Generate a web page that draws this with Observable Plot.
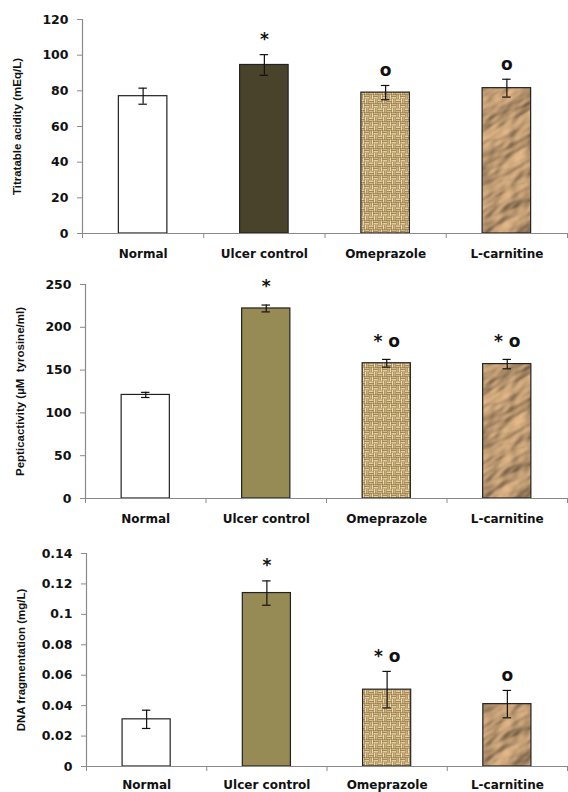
<!DOCTYPE html>
<html><head><meta charset="utf-8">
<script src="https://cdn.jsdelivr.net/npm/d3@7"></script>
<script src="https://cdn.jsdelivr.net/npm/@observablehq/plot@0.6"></script>
<style>
body{margin:0;background:#fff;}
#charts > div{height:264px;overflow:hidden}
</style>
</head><body>
<svg width="0" height="0" style="position:absolute">
<defs>
 <pattern id="burlap" patternUnits="userSpaceOnUse" width="9" height="9">
  <rect width="9" height="9" fill="#86663a"/>
  <rect x="0" y="0.4" width="4.5" height="1.5" fill="#ecdcae"/>
  <rect x="0" y="2.6" width="4.5" height="1.5" fill="#d3b982"/>
  <rect x="4.9" y="0" width="1.5" height="4.5" fill="#ecdcae"/>
  <rect x="7.1" y="0" width="1.5" height="4.5" fill="#d3b982"/>
  <rect x="0.4" y="4.5" width="1.5" height="4.5" fill="#d3b982"/>
  <rect x="2.6" y="4.5" width="1.5" height="4.5" fill="#ecdcae"/>
  <rect x="4.5" y="4.9" width="4.5" height="1.5" fill="#d3b982"/>
  <rect x="4.5" y="7.1" width="4.5" height="1.5" fill="#ecdcae"/>
 </pattern>
 <filter id="crumpleF" x="-250" y="-250" width="1070" height="770" filterUnits="userSpaceOnUse" color-interpolation-filters="sRGB">
  <feTurbulence type="fractalNoise" baseFrequency="0.026 0.055" numOctaves="3" seed="11" result="n"/>
  <feDiffuseLighting in="n" surfaceScale="3.5" diffuseConstant="1.15" lighting-color="#d2aa7e">
   <feDistantLight azimuth="225" elevation="52"/>
  </feDiffuseLighting>
 </filter>
 <pattern id="crumple" patternUnits="userSpaceOnUse" width="568" height="264">
  <rect x="0" y="0" width="568" height="264" fill="#bb966a"/>
  <rect transform="rotate(-28 284 132)" x="-250" y="-250" width="1070" height="770" fill="#bb966a" filter="url(#crumpleF)"/>
 </pattern>
</defs>
</svg>
<div id="charts"></div>
<script>
const categories = ["Normal", "Ulcer control", "Omeprazole", "L-carnitine"];

const titratable = [77, 94.5, 79, 81.5];
const titratableErr = [4.5, 5.8, 4, 5];
const titratableMarks = ["", "*", "o", "o"];
const titratableTicks = [0, 20, 40, 60, 80, 100, 120];

const peptic = [121, 222, 158, 157];
const pepticErr = [3, 4, 4.5, 5.5];
const pepticMarks = ["", "*", "* o", "* o"];
const pepticTicks = [0, 50, 100, 150, 200, 250];

const dna = [0.031, 0.114, 0.0505, 0.041];
const dnaErr = [0.006, 0.008, 0.012, 0.009];
const dnaMarks = ["", "*", "* o", "o"];
const dnaTicks = [0, 0.02, 0.04, 0.06, 0.08, 0.1, 0.12, 0.14];

const panels = [
  {label: "Titratable acidity (mEq/L)", values: titratable, err: titratableErr, marks: titratableMarks, ticks: titratableTicks,
   fills: ["#ffffff", "#4a432c", "url(#burlap)", "url(#crumple)"], ml: 82, mt: 19, mb: 31, markDy: -15, labDy: 21},
  {label: "Pepticactivity (\u00b5M  tyrosine/ml)", values: peptic, err: pepticErr, marks: pepticMarks, ticks: pepticTicks,
   fills: ["#ffffff", "#968a55", "url(#burlap)", "url(#crumple)"], ml: 85, mt: 20, mb: 30, markDy: -18, labDy: 21},
  {label: "DNA fragmentation (mg/L)", values: dna, err: dnaErr, marks: dnaMarks, ticks: dnaTicks,
   fills: ["#ffffff", "#968a55", "url(#burlap)", "url(#crumple)"], ml: 86, mt: 25, mb: 26, markDy: -15, labDy: 19}
];

const axisColor = "#8a8a8a";
const container = document.getElementById("charts");

for (const p of panels) {
  const rows = categories.map((c, i) => ({
    cat: c, i, v: p.values[i], e: p.err[i], m: p.marks[i], fill: p.fills[i]
  }));
  const ymax = p.ticks[p.ticks.length - 1];
  const chart = Plot.plot({
    width: 568, height: 264,
    marginLeft: p.ml, marginRight: 1, marginTop: p.mt, marginBottom: p.mb,
    style: {fontFamily: "DejaVu Sans, Verdana, sans-serif", background: "#fff"},
    x: {domain: [0, categories.length], axis: null},
    y: {domain: [0, ymax], axis: null},
    marks: [
      Plot.rectY(rows, {x1: d => d.i + 0.3, x2: d => d.i + 0.7, y1: 0, y2: "v",
        fill: d => d.fill, stroke: "#222", strokeWidth: 1.2}),
      Plot.ruleX(rows, {x: d => d.i + 0.5, y1: d => d.v - d.e, y2: d => d.v + d.e, stroke: "#111", strokeWidth: 1.2}),
      Plot.ruleY(rows, {y: d => d.v + d.e, x1: d => d.i + 0.465, x2: d => d.i + 0.535, stroke: "#111", strokeWidth: 1.2}),
      Plot.ruleY(rows, {y: d => d.v - d.e, x1: d => d.i + 0.465, x2: d => d.i + 0.535, stroke: "#111", strokeWidth: 1.2}),
      Plot.text(rows.filter(d => d.m), {x: d => d.i + 0.5, y: d => d.v + d.e, text: "m", dy: p.markDy,
        fontSize: 17, fontWeight: "bold", fill: "#111"}),
      Plot.ruleX([0], {stroke: axisColor, strokeWidth: 1.2}),
      Plot.ruleY([0], {stroke: axisColor, strokeWidth: 1.2}),
      Plot.axisY({ticks: p.ticks, tickSize: 5, tickPadding: 9, stroke: axisColor, label: null,
        tickFormat: d => String(d), fontSize: 12.5, fontWeight: "bold", fill: "#111"}),
      Plot.axisX({ticks: d3.range(categories.length + 1), tickSize: 5, tickFormat: () => "", stroke: axisColor, label: null}),
      Plot.text(rows, {x: d => d.i + 0.5, y: 0, text: "cat", dy: p.labDy, fontSize: 12, fontWeight: "bold", fill: "#111"}),
      Plot.text([p.label], {frameAnchor: "left", dx: -65, rotate: -90, text: d => d, textAnchor: "middle",
        fontSize: 11.5, fontWeight: "bold", fill: "#111", fontFamily: "Liberation Sans Narrow, Arial Narrow, sans-serif"})
    ]
  });
  const wrap = document.createElement("div");
  wrap.appendChild(chart);
  container.appendChild(wrap);
}
</script>
</body></html>
